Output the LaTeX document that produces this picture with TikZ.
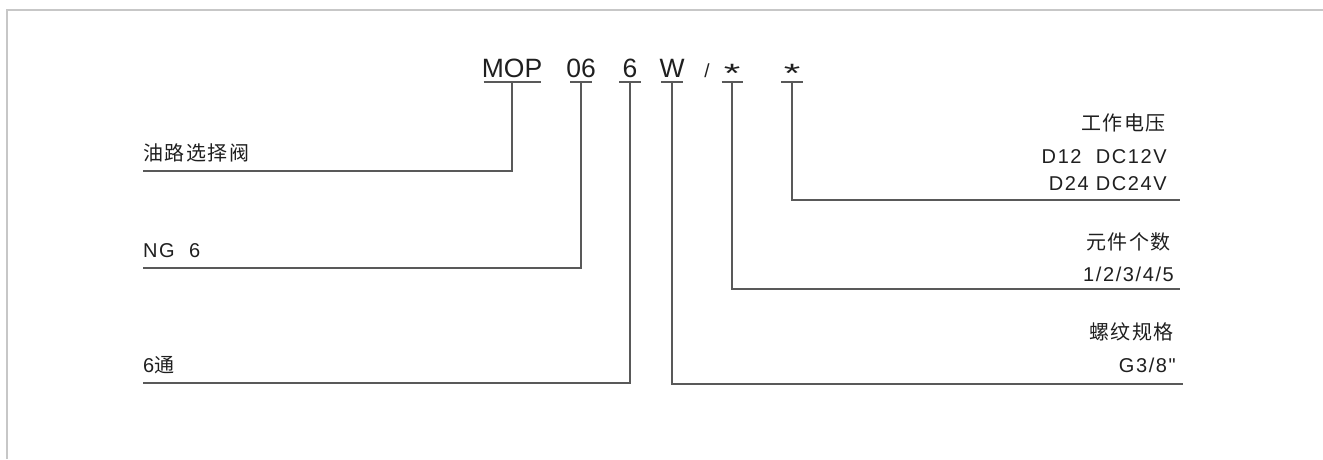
\documentclass[tikz,border=0pt]{standalone}
\usepackage{fontspec}
\setmainfont{Liberation Sans}
\newfontfamily\cjk[LetterSpace=8]{Noto Sans CJK SC}
\newfontfamily\etiq[LetterSpace=8]{Liberation Sans}
\begin{document}
\begin{tikzpicture}[x=1pt,y=-1pt,
    codigo/.style={font=\fontsize{26.5}{30}\selectfont,inner sep=0pt,anchor=base,text=texto},
    etiqueta/.style={font=\etiq\fontsize{20}{23}\selectfont,inner sep=0pt,text=texto},
    linea/.style={draw=gris,line width=1.4pt},
    marco/.style={draw=black!22,line width=2pt}]
    %colores
    \colorlet{texto}{black!88}
    \colorlet{gris}{black!65}

    % Marco
    \useasboundingbox (0,0) rectangle (1323,459);
    \draw[marco] (7,459) -- (7,10) -- (1323,10);

    % Codigo y subrayado
    \foreach \n/\x/\t/\m in {mop/512/MOP/28.5, cero/581/06/11, seis/630/6/11, w/672/W/11,
        ast1/732/\raisebox{-5pt}{\scalebox{1.6}[1]{*}}/10.5, ast2/792/\raisebox{-5pt}{\scalebox{1.6}[1]{*}}/11}
    {
        \node[codigo] (\n) at (\x,77) {\t};
        \draw[linea] ([xshift=-\m pt,yshift=-5pt]\n.base) -- ([xshift=\m pt,yshift=-5pt]\n.base);
    }
    \node[codigo,font=\fontsize{19}{22}\selectfont] (barra) at (707,77) {/};

    % Etiquetas izquierda
    \node[etiqueta,anchor=base west] (valvula) at (143,160) {\cjk 油路选择阀};
    \node[etiqueta,anchor=base west] (ng) at (143,257) {NG\ \ 6};
    \node[etiqueta,anchor=base west] (vias) at (143,372) {6{\cjk 通}};

    % Etiquetas derecha
    \node[etiqueta,anchor=base east] (tension) at (1166,130) {\cjk 工作电压};
    \node[etiqueta,anchor=base east] (d12) at (1167,163) {D12\ \ DC12V};
    \node[etiqueta,anchor=base east] (d24) at (1167,190) {D24 DC24V};
    \node[etiqueta,anchor=base east] (elem) at (1171,249) {\cjk 元件个数};
    \node[etiqueta,anchor=base east] (num) at (1174,281) {1/2/3/4/5};
    \node[etiqueta,anchor=base east] (rosca) at (1174,339) {\cjk 螺纹规格};
    \node[etiqueta,anchor=base east] (g38) at (1176,372) {G3/8"};

    % Lineas
    \coordinate (f1) at (143,171);
    \coordinate (f2) at (143,268);
    \coordinate (f3) at (143,383);
    \coordinate (f4) at (1183,384);
    \coordinate (f5) at (1180,289);
    \coordinate (f6) at (1180,200);
    \foreach \n/\f in {mop/f1, cero/f2, seis/f3, w/f4, ast1/f5, ast2/f6}
        \draw[linea] ([yshift=-5pt]\n.base) |- (\f);
\end{tikzpicture}
\end{document}
